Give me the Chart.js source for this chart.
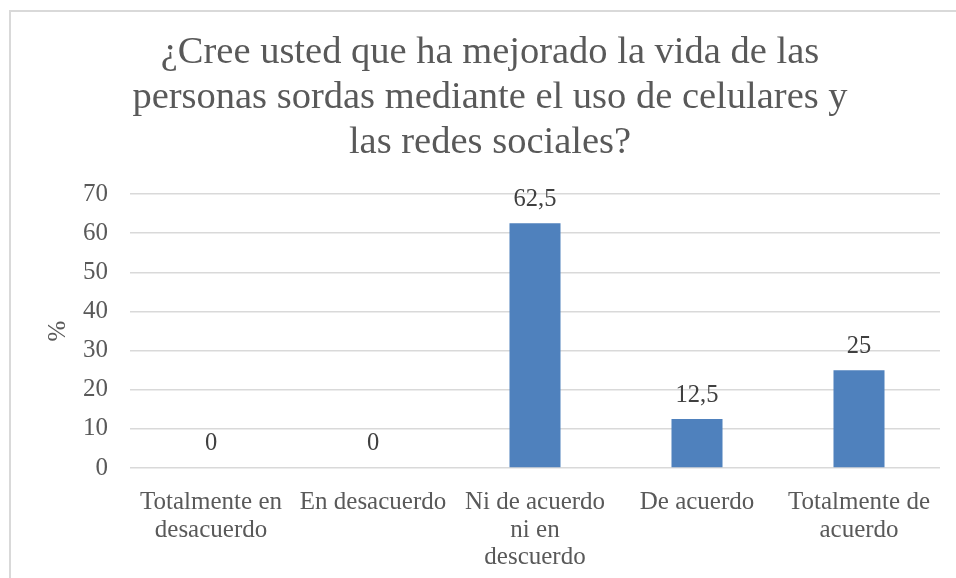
<!DOCTYPE html>
<html>
<head>
<meta charset="utf-8">
<script src="https://cdn.jsdelivr.net/npm/chart.js@4"></script>
<style>
  body { margin: 0; background: #fff; }
  #frame { position: absolute; left: 9px; top: 10px; width: 1000px; height: 600px;
           border-left: 2px solid #d9d9d9; border-top: 2px solid #d9d9d9; }
  #chart { position: absolute; left: 0; top: 0; }
</style>
</head>
<body>
<div id="frame"></div>
<canvas id="chart" width="956" height="578"></canvas>
<script>
const titleLines = [
  '¿Cree usted que ha mejorado la vida de las',
  'personas sordas mediante el uso de celulares y',
  'las redes sociales?'
];
const categories = [
  ['Totalmente en', 'desacuerdo'],
  'En desacuerdo',
  ['Ni de acuerdo', 'ni en', 'descuerdo'],
  'De acuerdo',
  ['Totalmente de', 'acuerdo']
];
const percentages = [0, 0, 62.5, 12.5, 25];
const yTicks = [0, 10, 20, 30, 40, 50, 60, 70];
const yLabel = '%';

const serif = '"Liberation Serif", "Times New Roman", serif';
const grey = '#595959';

// value labels above each bar, decimal comma like the original
const valueLabels = {
  id: 'valueLabels',
  afterDatasetsDraw(chart) {
    const ctx = chart.ctx;
    const meta = chart.getDatasetMeta(0);
    ctx.save();
    ctx.font = '24.5px ' + serif;
    ctx.fillStyle = '#404040';
    ctx.textAlign = 'center';
    ctx.textBaseline = 'middle';
    meta.data.forEach((bar, i) => {
      const txt = String(percentages[i]).replace('.', ',');
      ctx.fillText(txt, bar.x, bar.y - 24);
    });
    ctx.restore();
  }
};

new Chart(document.getElementById('chart'), {
  type: 'bar',
  data: {
    labels: categories,
    datasets: [{
      data: percentages,
      backgroundColor: '#4f81bd',
      borderWidth: 0,
      barPercentage: 0.315,
      categoryPercentage: 1
    }]
  },
  options: {
    responsive: false,
    animation: false,
    devicePixelRatio: 1,
    layout: { padding: { left: 40, right: 16, top: 0, bottom: 0 } },
    plugins: {
      legend: { display: false },
      tooltip: { enabled: false },
      title: {
        display: true,
        text: titleLines,
        color: grey,
        font: { family: serif, size: 38.5, weight: 'normal', lineHeight: 45 / 38.5 },
        padding: { top: 30, bottom: 29 }
      }
    },
    scales: {
      x: {
        grid: { display: false, drawTicks: false },
        border: { display: false },
        ticks: {
          color: grey,
          font: { family: serif, size: 25, lineHeight: 1.1 },
          padding: 21,
          maxRotation: 0,
          autoSkip: false
        },
        afterFit(scale) { scale.height = 110; }
      },
      y: {
        min: 0,
        max: 70,
        afterBuildTicks(scale) { scale.ticks = yTicks.map(v => ({ value: v })); },
        grid: { color: '#d9d9d9', lineWidth: 1.5, drawTicks: false },
        border: { display: false },
        ticks: {
          color: grey,
          font: { family: serif, size: 25 },
          padding: 22
        },
        title: {
          display: true,
          text: yLabel,
          color: grey,
          font: { family: serif, size: 25 },
          padding: { top: 3, bottom: 0 }
        },
        afterFit(scale) { scale.width = 90; }
      }
    }
  },
  plugins: [valueLabels]
});
</script>
</body>
</html>
